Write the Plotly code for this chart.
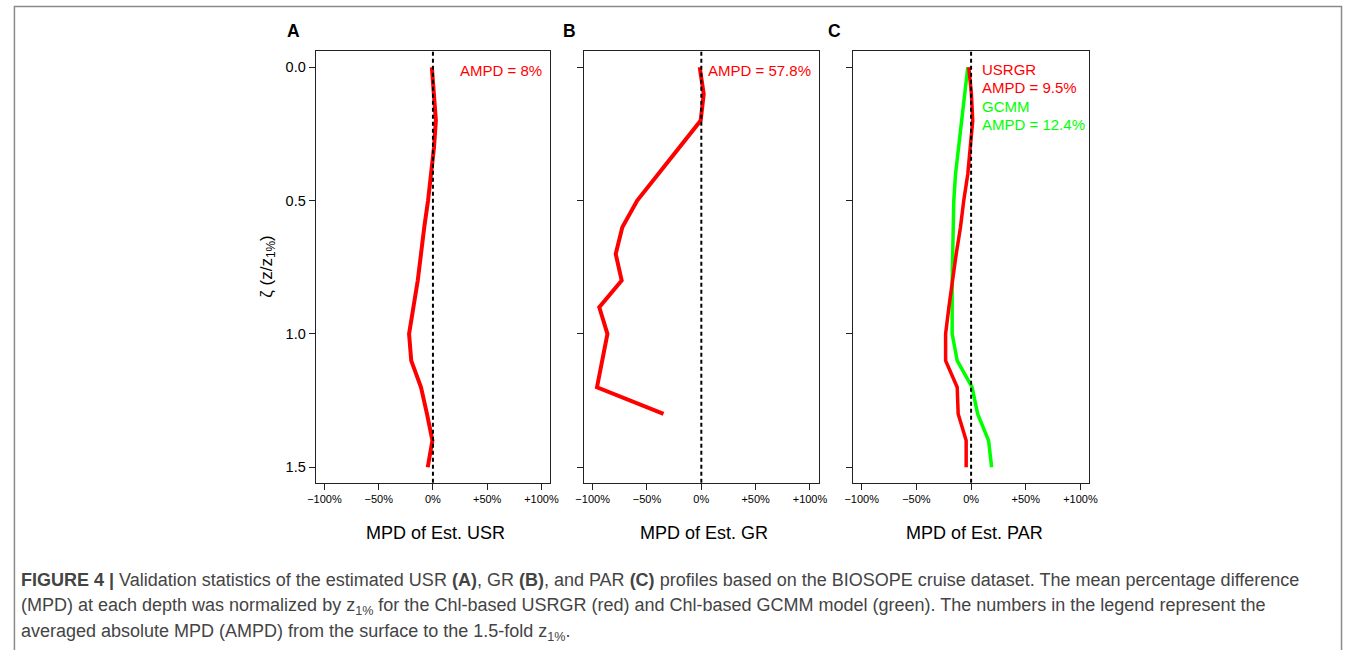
import plotly.graph_objects as go

W, H = 1352, 650

# ---------------- data ----------------
depth = [0.0, 0.1, 0.2, 0.3, 0.4, 0.5, 0.6, 0.7, 0.8, 0.9, 1.0, 1.1, 1.2, 1.3, 1.4, 1.5]
usr_mpd = [-1, 1, 2.7, 1, -1.5, -4.5, -8, -11, -14, -18, -22, -20, -11, -5.5, -0.5, -4.8]
depth_gr = [0.0, 0.1, 0.2, 0.3, 0.4, 0.5, 0.6, 0.7, 0.8, 0.9, 1.0, 1.1, 1.2, 1.3]
gr_mpd = [-1.5, 2.2, -0.6, -20, -40, -59, -72.7, -78.8, -73.3, -93.9, -86.4, -91, -96, -34.8]
par_usrgr = [-2.1, 0.3, 1.5, -0.9, -3, -6.7, -9.7, -13.6, -17.3, -20.3, -23.3, -23.3, -12.7, -11.8, -4.5, -4.5]
par_gcmm = [-3, -6, -9, -12, -14.2, -15.8, -16.4, -17, -17.3, -17.3, -17.3, -12.7, 0.9, 6, 16, 18.8]

x_tick_vals = [-100, -50, 0, 50, 100]
x_tick_text = ["\u2212100%", "\u221250%", "0%", "+50%", "+100%"]
y_tick_vals = [0.0, 0.5, 1.0, 1.5]
y_tick_text = ["0.0", "0.5", "1.0", "1.5"]

panel_letters = ["A", "B", "C"]
x_titles = ["MPD of Est. USR", "MPD of Est. GR", "MPD of Est. PAR"]

# ---------------- layout helpers ----------------
def px(x):
    return x / W

def py(y):
    return 1 - y / H

RED = "#FF0000"
GREEN = "#00FF00"
FONT = "Liberation Sans, Arial, Helvetica, sans-serif"

panel_px = [(311.7, 549.0), (583.3, 821.0), (855.7, 1095.0)]
y_dom = [py(482.7), py(51.0)]

fig = go.Figure()

# traces
fig.add_trace(go.Scatter(x=usr_mpd, y=depth, mode="lines", line=dict(color=RED, width=4),
                         xaxis="x", yaxis="y", showlegend=False))
fig.add_trace(go.Scatter(x=gr_mpd, y=depth_gr, mode="lines", line=dict(color=RED, width=4),
                         xaxis="x2", yaxis="y2", showlegend=False))
fig.add_trace(go.Scatter(x=par_gcmm, y=depth, mode="lines", line=dict(color=GREEN, width=3.5),
                         xaxis="x3", yaxis="y3", showlegend=False))
fig.add_trace(go.Scatter(x=par_usrgr, y=depth, mode="lines", line=dict(color=RED, width=3.5),
                         xaxis="x3", yaxis="y3", showlegend=False))

axis_common = dict(showgrid=False, zeroline=False, showline=True, mirror=True,
                   linecolor="#222222", linewidth=1.2, ticks="outside", ticklen=6,
                   tickwidth=1, tickcolor="#222222")

layout = dict(width=W, height=H, autosize=False, margin=dict(l=0, r=0, t=0, b=0, pad=0),
              paper_bgcolor="white", plot_bgcolor="white",
              font=dict(family=FONT, color="black"))

shapes = []
annotations = []
for i, (x0, x1) in enumerate(panel_px):
    sfx = "" if i == 0 else str(i + 1)
    layout["xaxis" + sfx] = dict(domain=[px(x0), px(x1)], anchor="y" + sfx,
                                 range=[-108, 108], tickvals=x_tick_vals, ticktext=x_tick_text,
                                 tickfont=dict(size=11, color="black"), **axis_common)
    layout["yaxis" + sfx] = dict(domain=y_dom, anchor="x" + sfx,
                                 range=[1.558, -0.061], tickvals=y_tick_vals,
                                 ticktext=y_tick_text,
                                 showticklabels=(i == 0),
                                 tickfont=dict(size=14.5, color="black"), **axis_common)
    # dashed zero line
    shapes.append(dict(type="line", xref="x" + sfx, yref="y" + sfx + " domain",
                       x0=0, x1=0, y0=0, y1=1,
                       line=dict(color="black", width=2, dash="4px,3px")))
    # panel letter
    annotations.append(dict(text="<b>" + panel_letters[i] + "</b>", xref="paper", yref="paper",
                            x=px([289.3, 568.5, 836.7][i]), y=py(31), xanchor="center",
                            yanchor="middle", showarrow=False, font=dict(size=17.5, color="black")))
    # x title
    annotations.append(dict(text=x_titles[i], xref="paper", yref="paper",
                            x=px((x0 + x1) / 2 + 3), y=py(533), xanchor="center", yanchor="middle",
                            showarrow=False, font=dict(size=18, color="black")))

# y-axis title
annotations.append(dict(text="\u03b6 (z/z<sub>1%</sub>)", xref="paper", yref="paper",
                        x=px(263), y=py(267), xanchor="center", yanchor="middle",
                        textangle=-90, showarrow=False, font=dict(size=17, color="black")))

# AMPD labels
annotations.append(dict(text="AMPD = 8%", xref="paper", yref="paper", x=px(542.5), y=py(70),
                        xanchor="right", yanchor="middle", showarrow=False,
                        font=dict(size=15, color=RED)))
annotations.append(dict(text="AMPD = 57.8%", xref="paper", yref="paper", x=px(815.7), y=py(70),
                        xanchor="right", yanchor="middle", showarrow=False,
                        font=dict(size=15, color=RED)))
legend_c = [("USRGR", RED, 69.3), ("AMPD = 9.5%", RED, 87.7),
            ("GCMM", GREEN, 106.0), ("AMPD = 12.4%", GREEN, 124.3)]
for txt, col, yy in legend_c:
    annotations.append(dict(text=txt, xref="paper", yref="paper", x=px(984), y=py(yy),
                            xanchor="left", yanchor="middle", showarrow=False,
                            font=dict(size=15, color=col)))

# caption
CAP_COL = "#444444"
caption_lines = [
    "<b>FIGURE 4 |</b> Validation statistics of the estimated USR <b>(A)</b>, GR <b>(B)</b>, and PAR <b>(C)</b> profiles based on the BIOSOPE cruise dataset. The mean percentage difference",
    "(MPD) at each depth was normalized by z<sub>1%</sub> for the Chl-based USRGR (red) and Chl-based GCMM model (green). The numbers in the legend represent the",
    "averaged absolute MPD (AMPD) from the surface to the 1.5-fold z<sub>1%</sub>.",
]
for txt, yy in zip(caption_lines, [580, 606, 632]):
    annotations.append(dict(text=txt, xref="paper", yref="paper", x=px(11), y=py(yy),
                            xanchor="left", yanchor="middle", showarrow=False,
                            font=dict(size=18, color=CAP_COL)))

# outer border of figure box
shapes.append(dict(type="rect", xref="paper", yref="paper", x0=px(6.5), x1=px(1350.5),
                   y0=py(700), y1=py(6.5), line=dict(color="#8a8a8a", width=1.5),
                   fillcolor="rgba(0,0,0,0)", layer="below"))

layout["shapes"] = shapes
layout["annotations"] = annotations
fig.update_layout(**layout)

fig.write_html("out.html",
               config={"displayModeBar": False, "responsive": False},
               post_script="document.body.style.margin='0';document.body.style.overflow='hidden';")
